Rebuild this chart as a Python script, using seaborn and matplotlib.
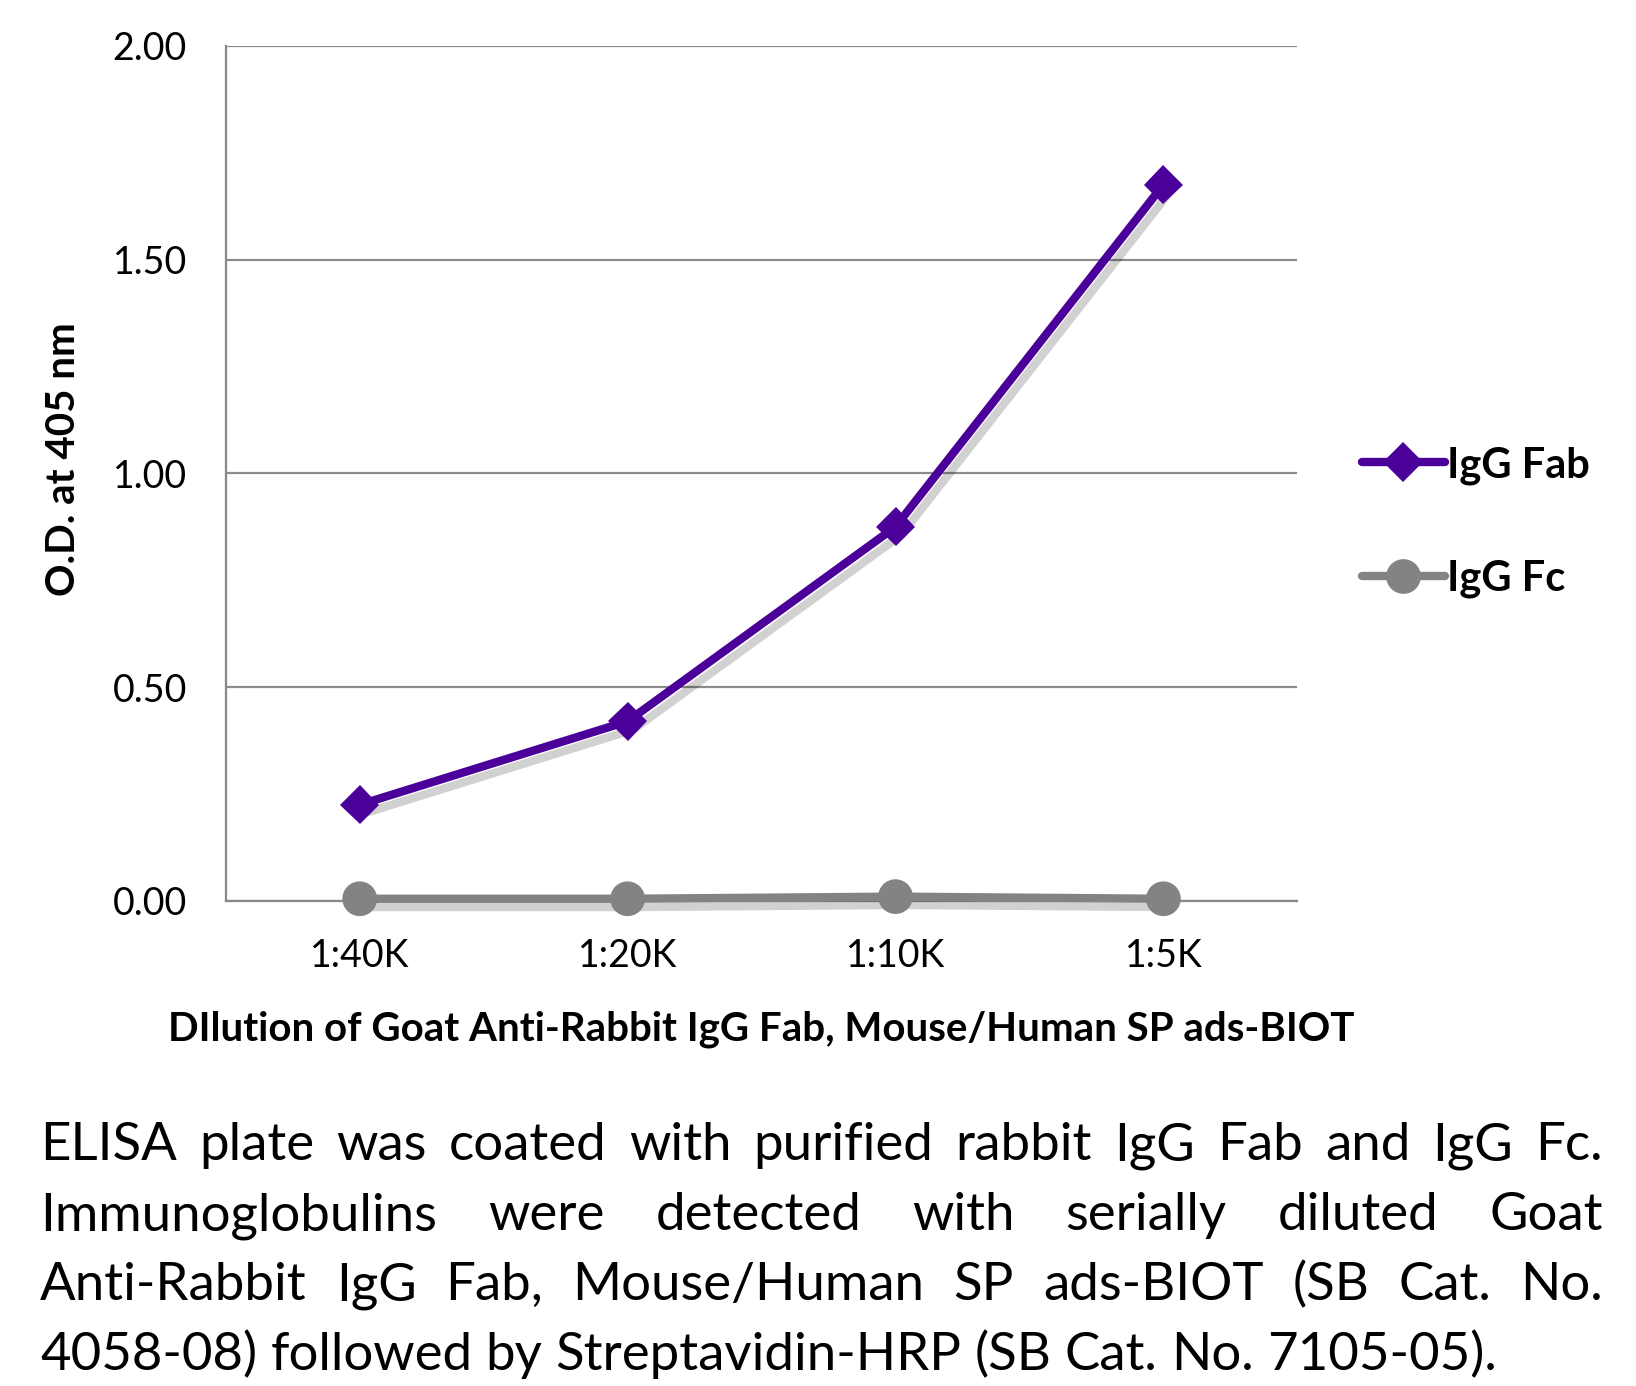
import pandas as pd
import matplotlib
matplotlib.use('Agg')
import matplotlib.pyplot as plt
import matplotlib.patheffects as pe
import seaborn as sns

#---------------------------------------------------------
dilutions=['1:40K', '1:20K', '1:10K', '1:5K']
fab=[0.225, 0.42, 0.875, 1.675]
fc=[0.005, 0.005, 0.01, 0.005]
series=['IgG Fab', 'IgG Fc']
yticks=[0.0, 0.5, 1.0, 1.5, 2.0]
cmap={'IgG Fab': '#4a0099', 'IgG Fc': '#838383'}
markers={'IgG Fab': 'D', 'IgG Fc': 'o'}
xlbl='DIlution of Goat Anti-Rabbit IgG Fab, Mouse/Human SP ads-BIOT'
ylbl='O.D. at 405 nm'
caption=['ELISA plate was coated with purified rabbit IgG Fab and IgG Fc.',
	'Immunoglobulins were detected with serially diluted Goat',
	'Anti-Rabbit IgG Fab, Mouse/Human SP ads-BIOT (SB Cat. No.',
	'4058-08) followed by Streptavidin-HRP (SB Cat. No. 7105-05).']

#--------------------------------------------------------
df=pd.DataFrame({'dilution': dilutions*2, 'od': fab+fc,
	'series': [series[0]]*4+[series[1]]*4})

sns.set_style('white')
plt.rcParams['font.family']=['Lato', 'DejaVu Sans']
plt.rcParams['text.color']='black'
plt.rcParams['axes.labelcolor']='black'
plt.rcParams['xtick.color']='black'
plt.rcParams['ytick.color']='black'

fig=plt.figure(figsize=(16.36, 13.86), dpi=100)
ax=fig.add_axes([0.138, 0.350, 0.655, 0.617])

shadow=[pe.SimpleLineShadow(offset=(4, -6), shadow_color='#000000', alpha=0.18), pe.Normal()]
for s in series:
	d=df[df['series']==s]
	sns.lineplot(x='dilution', y='od', data=d, color=cmap[s], marker=markers[s],
		markersize=20 if s=='IgG Fab' else 25, markeredgewidth=0, linewidth=6,
		label=s, ax=ax, sort=False, zorder=3, path_effects=shadow, clip_on=False)

#adjust
ax.set_xlim(-0.5, 3.5)
ax.set_ylim(0, 2.0)
ax.set_yticks(yticks)
ax.set_yticklabels([f'{v:.2f}' for v in yticks], fontsize=27)
ax.set_xticks([-0.5, 0.5, 1.5, 2.5, 3.5])
ax.set_xticks(range(4), minor=True)
ax.set_xticklabels([])
ax.set_xticklabels(dilutions, minor=True, fontsize=27)
ax.tick_params(axis='x', which='major', length=11, width=1.5, color='#888888', direction='out')
ax.tick_params(axis='x', which='minor', length=0, pad=27)
ax.tick_params(axis='y', which='major', length=11, width=1.5, color='#888888', direction='out', pad=17)
ax.yaxis.grid(True, color='#8c8c8c', linewidth=1.6)
ax.set_axisbelow(True)
for side in ['top', 'right']:
	ax.spines[side].set_visible(False)
for side in ['left', 'bottom']:
	ax.spines[side].set_color('#888888')
	ax.spines[side].set_linewidth(1.6)
	ax.spines[side].set_zorder(1)
ax.set_xlabel(xlbl, fontsize=29, weight='bold', labelpad=26)
ax.set_ylabel(ylbl, fontsize=29, weight='bold', labelpad=22)
ax.yaxis.label.set_y(0.517)

leg=ax.legend(loc='center left', bbox_to_anchor=(1.025, 0.443), frameon=False,
	prop={'size': 30, 'weight': 'bold'}, handlelength=2.0, handletextpad=0.05,
	labelspacing=1.8)
for l in leg.get_lines():
	l.set_path_effects([])

#caption, justified
fs=38
x0, x1=40, 1603
fig.canvas.draw()
rnd=fig.canvas.get_renderer()
W, H=fig.get_size_inches()*fig.dpi
for i, line in enumerate(caption):
	yb=1160+i*70
	words=line.split(' ')
	txts=[fig.text(0, 1-yb/H, w, fontsize=fs, va='baseline', ha='left', color='black') for w in words]
	widths=[t.get_window_extent(rnd).width for t in txts]
	if i<len(caption)-1:
		gap=(x1-x0-sum(widths))/(len(words)-1)
	else:
		gap=fs*100/72*0.25
	x=x0
	for t, w in zip(txts, widths):
		t.set_x(x/W)
		x+=w+gap

plt.savefig('out.png', dpi=100)
plt.close()
